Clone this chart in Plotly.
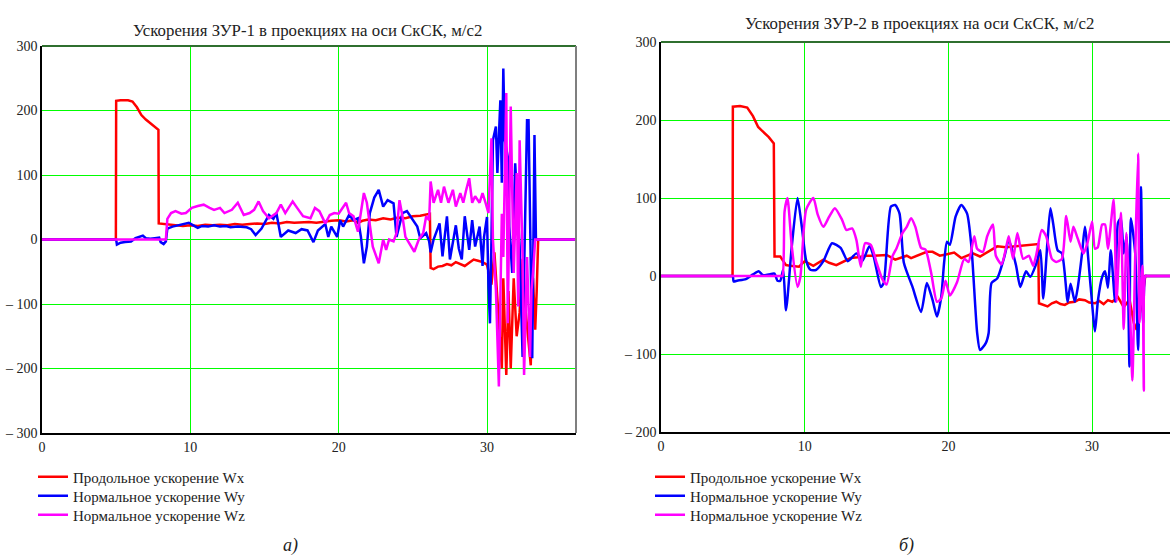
import plotly.graph_objects as go

W, H = 1170, 559

# ---------------- ЗУР-1 ----------------
t1_x = [0, 4.98, 5.0, 5.3, 5.8, 6.1, 6.4, 6.7, 7.0, 7.3, 7.6, 7.85, 7.87, 8.2, 8.6, 9.0, 9.5,
        10.0, 10.5, 11.0, 11.5, 12.0, 12.5, 13.0, 13.5, 14.0, 14.5, 15.0, 15.5, 16.0, 16.5,
        17.0, 17.5, 18.0, 18.5, 19.0, 19.5, 20.0, 20.5, 21.0, 21.3, 21.6, 22.0, 22.5, 23.0,
        23.5, 24.0, 24.5, 25.0, 25.5, 26.0, 26.15, 26.2, 26.4, 26.7, 27.0, 27.3, 27.6, 27.9,
        28.2, 28.5, 28.8, 29.1, 29.4, 29.7, 30.0, 30.3, 30.5, 30.8, 31.0, 31.1, 31.3, 31.45,
        31.6, 31.8, 32.0, 32.2, 32.4, 32.6, 32.8, 32.95, 33.1, 33.25, 33.35, 33.45, 36]
wx1 = [0, 0, 215, 216, 216, 214, 205, 193, 186, 180, 175, 170, 25, 24, 23, 22, 21,
       22, 21, 23, 22, 23, 22, 24, 23, 24, 25, 24, 26, 25, 27,
       26, 27, 27, 26, 28, 29, 30, 28, 30, 26, 29, 31, 30, 33,
       31, 34, 33, 36, 37, 39, 40, -44, -46, -42, -41, -38, -40, -35,
       -38, -41, -36, -31, -33, -35, -39, -70, -20, -120, -200, -60, -210, -80,
       -200, -60, -150, -113, -30, -110, -160, -195, -60, -140, -80, 0, 0]

t1_y = [0, 5.0, 5.05, 5.3, 5.6, 6.0, 6.3, 6.6, 6.8, 7.0, 7.3, 7.6, 7.9, 8.0, 8.2, 8.35, 8.45,
        8.8, 9.2, 9.6, 9.9, 10.2, 10.5, 10.8, 11.2, 11.6, 12.0, 12.4, 12.7, 13.2, 13.8,
        14.1, 14.4, 14.8, 15.3, 15.6, 15.8, 16.1, 16.6, 17.1, 17.5, 17.9, 18.3, 18.6, 19.1,
        19.3, 19.5, 19.9, 20.1, 20.3, 20.7, 21.0, 21.3, 21.5, 21.7, 21.9, 22.1, 22.4, 22.7,
        23.0, 23.3, 23.7, 23.9, 24.1, 24.3, 24.6, 25.0, 25.3, 25.5, 25.9, 26.1, 26.2, 26.4,
        26.8, 27.0, 27.3, 27.5, 27.9, 28.1, 28.3, 28.5, 28.8, 29.0, 29.2, 29.5, 29.7, 29.8,
        30.0, 30.1, 30.2, 30.3, 30.4, 30.6, 30.7, 30.9, 31.0, 31.1, 31.2, 31.4, 31.5, 31.7,
        31.9, 32.2, 32.4, 32.5, 32.7, 32.8, 32.9, 33.05, 33.2, 33.3, 33.45, 36]
wy1 = [0, 0, -8, -5, -4, -3, 2, 4, 6, 2, 1, 2, 3, -4, -7, -3, 17,
       20, 22, 24, 26, 22, 18, 21, 20, 22, 20, 21, 19, 20, 19,
       16, 7, 17, 38, 32, 41, 4, 14, 10, 16, 14, -4, 14, 24,
       4, 20, 4, 30, 20, 38, 30, 33, 4, -37, -11, 41, 65, 77,
       51, 61, 56, 4, 22, 41, 44, 30, 20, 2, 10, -3, -20, 0,
       25, -26, 36, -31, 22, -14, -31, 36, -16, 30, -11, 20, -41, 4,
       35, -73, -130, 0, 154, 175, 103, 216, 88, 265, 154, 128, 20, -52,
       118, -11, -182, -52, 185, 185, 0, -184, 162, 0, 0, 0]

t1_z = [0, 8.35, 8.45, 8.7, 9.0, 9.4, 9.7, 10.1, 10.5, 10.9, 11.3, 11.6, 12.0, 12.3, 12.8,
        13.2, 13.6, 14.0, 14.3, 14.6, 14.9, 15.3, 15.8, 16.1, 16.4, 16.9, 17.2, 17.6, 18.1,
        18.4, 18.7, 19.1, 19.4, 19.7, 20.0, 20.5, 20.7, 21.0, 21.3, 21.5, 21.7, 21.9, 22.1,
        22.3, 22.7, 23.0, 23.2, 23.4, 23.7, 23.9, 24.1, 24.3, 24.5, 24.9, 25.1, 25.4, 25.7,
        25.9, 26.1, 26.2, 26.4, 26.7, 26.9, 27.1, 27.4, 27.7, 27.9, 28.2, 28.4, 28.6, 28.8,
        29.0, 29.2, 29.5, 29.7, 29.9, 30.1, 30.3, 30.4, 30.6, 30.7, 30.8, 31.0, 31.1, 31.3,
        31.4, 31.6, 31.8, 32.0, 32.1, 32.2, 32.4, 32.5, 32.7, 32.9, 33.0, 33.1, 33.25, 36]
wz1 = [0, 0, 32, 41, 44, 40, 41, 49, 52, 54, 49, 46, 49, 41, 46,
       57, 38, 41, 46, 59, 44, 33, 41, 54, 41, 59, 49, 36, 33,
       49, 44, 25, 38, 41, 40, 57, 41, 36, 12, 46, 72, 57, 20,
       -11, -37, 0, -16, 0, -3, 10, 61, 36, 4, -11, -19, 0, 10,
       36, 30, 90, 57, 77, 57, 82, 57, 77, 51, 72, 57, 77, 95,
       57, 67, 57, 72, 57, 41, 157, 0, -78, -156, -228, 40, -27, 227,
       -130, 206, -52, 103, -104, 154, -27, -210, -27, -182, -78, -52, 0, 0]

# ---------------- ЗУР-2 ----------------
t2_x = [0, 4.98, 5.0, 5.5, 6.0, 6.4, 6.76, 7.1, 7.5, 7.85, 7.9, 8.3, 8.7, 9.0, 9.6, 10.0,
        10.6, 11.3, 11.7, 12.2, 12.7, 13.2, 13.7, 14.3, 14.8, 15.7, 16.3, 16.7, 17.1, 17.4,
        17.9, 18.5, 18.9, 19.4, 19.9, 20.4, 20.9, 21.3, 21.7, 22.2, 22.8, 23.4, 24.0, 24.6,
        25.2, 25.8, 26.25, 26.3, 26.6, 26.9, 27.2, 27.5, 27.8, 28.1, 28.4, 28.8, 29.1, 29.5,
        29.8, 30.2, 30.5, 30.8, 31.1, 31.4, 31.8, 32.2, 32.6, 32.9, 33.1, 33.4, 33.7, 35.5]
wx2 = [0, 0, 217, 218, 216, 205, 191, 185, 178, 170, 25, 25, 14, 13, 12, 19,
       13, 21, 17, 14, 18, 23, 24, 26, 26, 27, 21, 24, 26, 23,
       27, 31, 31, 26, 28, 30, 23, 26, 29, 25, 31, 38, 37, 38,
       39, 40, 41, -35, -37, -39, -35, -33, -36, -37, -34, -33, -30, -31,
       -34, -35, -32, -36, -31, -33, -27, -40, -30, -60, -69, -40, 0, 0]

t2_y = [0, 4.8, 5.0, 5.05, 5.3, 5.9, 6.4, 6.8, 7.1, 7.5, 7.9, 8.1, 8.3, 8.5, 8.7, 9.1, 9.5,
        9.8, 10.1, 10.4, 10.8, 11.3, 11.9, 12.5, 13.0, 13.6, 14.0, 14.5, 14.8, 15.3, 15.5,
        16.0, 16.3, 16.6, 16.9, 17.5, 18.1, 18.5, 18.9, 19.2, 19.5, 19.7, 19.9, 20.1, 20.5,
        20.9, 21.3, 21.6, 22.0, 22.2, 22.6, 22.8, 23.0, 23.4, 23.9, 24.2, 24.7, 25.0, 25.4,
        25.7, 26.1, 26.4, 26.6, 26.9, 27.1, 27.3, 27.6, 27.9, 28.3, 28.5, 28.8, 29.0, 29.3,
        29.5, 29.9, 30.2, 30.4, 30.7, 30.9, 31.1, 31.3, 31.6, 31.8, 32.0, 32.2, 32.4, 32.6,
        32.7, 33.0, 33.2, 33.4, 33.55, 33.7, 33.85, 35.5]
wy2 = [0, 0, 0, -7, -6, -4, 2, 6, 1, 2, 3, -6, -6, 8, -44, 38, 100,
       63, 20, 8, 8, 19, 42, 36, 19, 29, 19, 38, 25, -14, -9,
       89, 91, 80, 17, -14, -46, -9, -31, -52, -27, 17, 44, 40, 76,
       91, 80, 38, -73, -95, -86, -73, -9, -3, 25, 46, 14, -14, 6,
       -1, 15, 33, -29, 46, 87, 66, 33, 29, -33, -10, -33, -15, 29,
       63, -14, -71, -32, -1, 6, -15, 33, -33, 68, 74, 29, 51, -116,
       74, 29, -95, 114, -60, 0, 0, 0]

t2_z = [0, 8.3, 8.45, 8.6, 8.8, 9.1, 9.5, 9.7, 10.1, 10.6, 10.9, 11.3, 11.7, 12.1, 12.6, 12.9,
        13.3, 13.6, 13.9, 14.2, 14.6, 15.0, 15.4, 15.7, 16.1, 16.4, 16.8, 17.1, 17.4, 17.7,
        18.1, 18.4, 18.8, 19.2, 19.5, 19.8, 20.1, 20.6, 21.1, 21.4, 21.8, 22.0, 22.4, 22.7,
        23.1, 23.3, 23.7, 24.0, 24.2, 24.5, 24.8, 25.2, 25.6, 25.9, 26.1, 26.5, 26.8, 27.2,
        27.5, 27.9, 28.2, 28.5, 28.7, 29.0, 29.4, 29.7, 30.0, 30.2, 30.4, 30.7, 30.9, 31.1,
        31.5, 31.7, 32.0, 32.2, 32.4, 32.7, 32.8, 33.0, 33.2, 33.3, 33.5, 33.6, 33.7, 33.85, 35.5]
wz2 = [0, 0, 0, 83, 100, 38, -14, -1, 85, 100, 79, 63, 76, 87, 72, 59,
       61, 46, 12, 42, 40, 17, -4, -11, 25, 36, 55, 63, 74, 63,
       36, 34, 4, -33, -29, -6, -25, -8, 22, 18, 51, 35, 31, 51,
       66, 26, 15, 35, 51, 22, 55, 22, 26, 13, 26, 59, 51, 22,
       18, 22, 77, 44, 63, 48, 29, 44, 70, 35, 37, 66, 66, 35,
       98, -33, 81, -68, 55, -78, -134, 26, 157, -60, 13, -147, 0, 0, 0]

# axis ticks
x_ticks = [0, 10, 20, 30]
y1_ticks = [-300, -200, -100, 0, 100, 200, 300]
y1_text = ["– 300", "– 200", "– 100", "0", "100", "200", "300"]
y2_ticks = [-200, -100, 0, 100, 200, 300]
y2_text = ["– 200", "– 100", "0", "100", "200", "300"]

names = ["Продольное ускорение Wx", "Нормальное ускорение Wy", "Нормальное ускорение Wz"]
colors = ["#ff0000", "#0000ff", "#ff00ff"]

titles = ["Ускорения ЗУР-1 в проекциях на оси СкСК, м/с2",
          "Ускорения ЗУР-2 в проекциях на оси СкСК, м/с2"]
captions = ["а)", "б)"]

FONT = "Liberation Serif"


def px(x):
    return x / W


def py(y):
    return 1 - y / H


fig = go.Figure()

series1 = [(t1_x, wx1), (t1_y, wy1), (t1_z, wz1)]
series2 = [(t2_x, wx2), (t2_y, wy2), (t2_z, wz2)]

# one single-entry legend per row so the rows sit at fixed heights
legend_rows = [477, 496, 515]
legend_left = [33, 650]
legend_font = dict(family=FONT, size=15, color="#222")
legend_layout = {}

k = 0
for panel, (series, xa, ya) in enumerate(((series1, "x", "y"), (series2, "x2", "y2"))):
    for i, ((t, v), name, c) in enumerate(zip(series, names, colors)):
        k += 1
        lg = "legend" if k == 1 else f"legend{k}"
        # the second missile's transverse components are smooth curves
        shape = "spline" if (panel == 1 and i > 0) else "linear"
        fig.add_trace(go.Scatter(x=t, y=v, mode="lines", name=name, xaxis=xa, yaxis=ya,
                                 line=dict(color=c, width=2.5, shape=shape, smoothing=0.6),
                                 legend=lg))
        legend_layout[lg] = dict(x=px(legend_left[panel]), y=py(legend_rows[i]),
                                 xanchor="left", yanchor="middle", font=legend_font,
                                 bgcolor="rgba(0,0,0,0)", itemwidth=30,
                                 borderwidth=0)

# plot areas in pixels: left, right, top, bottom
box1 = (42, 576, 46, 433)
box2 = (661, 1170, 42, 432)

tick_font = dict(family=FONT, size=14, color="#222")
common_x = dict(tickvals=x_ticks, showgrid=True, gridcolor="#00ff00", gridwidth=1,
                showline=True, linecolor="black", linewidth=1.5, zeroline=False,
                ticks="", tickfont=tick_font, automargin=False)
common_y = dict(showgrid=True, gridcolor="#00ff00", gridwidth=1,
                showline=True, linecolor="black", linewidth=1.5, zeroline=False,
                ticks="", tickfont=tick_font, automargin=False)

fig.update_layout(
    width=W, height=H,
    margin=dict(l=0, r=0, t=0, b=0, autoexpand=False),
    paper_bgcolor="white", plot_bgcolor="white",
    font=dict(family=FONT, color="#222"),
    xaxis=dict(domain=[px(box1[0]), px(box1[1])], range=[0, 36], anchor="y", **common_x),
    yaxis=dict(domain=[py(box1[3]), py(box1[2])], range=[-300, 300], anchor="x",
               tickvals=y1_ticks, ticktext=y1_text, **common_y),
    xaxis2=dict(domain=[px(box2[0]), px(box2[1])], range=[0, 35.42], anchor="y2", **common_x),
    yaxis2=dict(domain=[py(box2[3]), py(box2[2])], range=[-200, 300], anchor="x2",
                tickvals=y2_ticks, ticktext=y2_text, **common_y),
    showlegend=True,
    **legend_layout,
)

# top and right frame edges
for xr, yr in (("x", "y"), ("x2", "y2")):
    fig.add_shape(type="line", xref=f"{xr} domain", yref=f"{yr} domain",
                  x0=0, x1=1, y0=1, y1=1, line=dict(color="#2f6f2f", width=2))
fig.add_shape(type="line", xref="x domain", yref="y domain",
              x0=1, x1=1, y0=0, y1=1, line=dict(color="#7f7f7f", width=2))

# titles and captions
title_font = dict(family=FONT, size=16.8, color="#222")
fig.add_annotation(text=titles[0], xref="paper", yref="paper", x=px(307), y=py(30),
                   xanchor="center", yanchor="middle", showarrow=False, font=title_font)
fig.add_annotation(text=titles[1], xref="paper", yref="paper", x=px(919), y=py(23),
                   xanchor="center", yanchor="middle", showarrow=False, font=title_font)
cap_font = dict(family=FONT, size=18, color="#222")
fig.add_annotation(text=f"<i>{captions[0]}</i>", xref="paper", yref="paper", x=px(290), y=py(545),
                   xanchor="center", yanchor="middle", showarrow=False, font=cap_font)
fig.add_annotation(text=f"<i>{captions[1]}</i>", xref="paper", yref="paper", x=px(906), y=py(545),
                   xanchor="center", yanchor="middle", showarrow=False, font=cap_font)

fig.write_html("out.html")
